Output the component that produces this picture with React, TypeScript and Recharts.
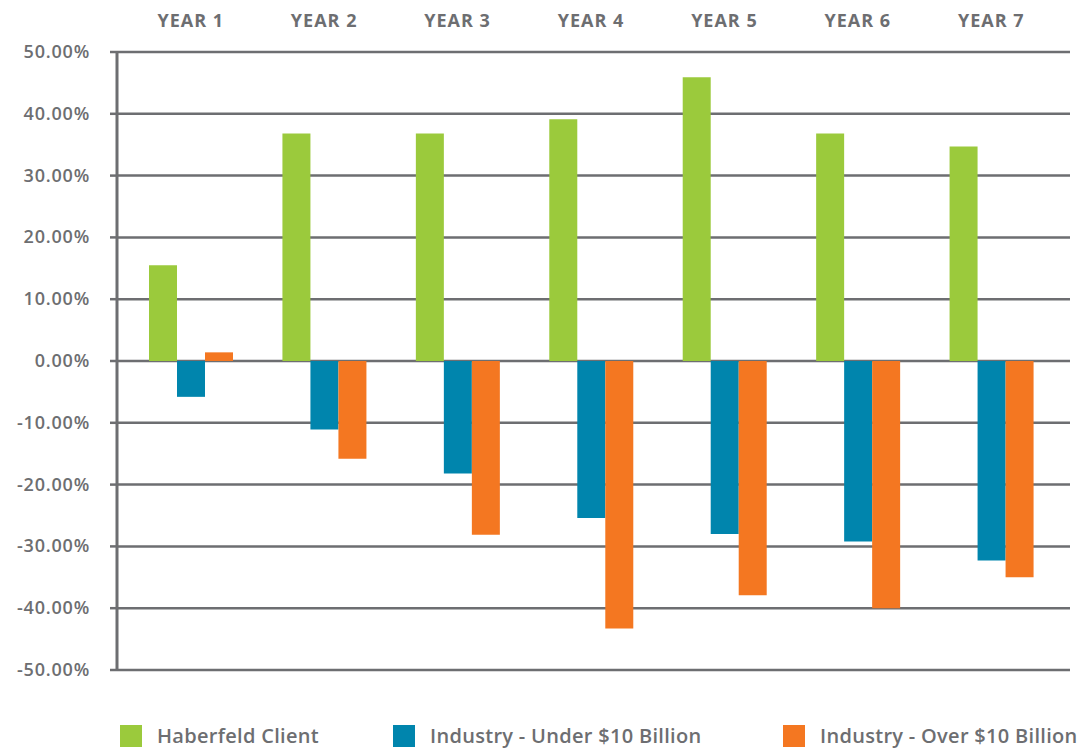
import React from "react";
import { BarChart, Bar, XAxis, YAxis, CartesianGrid, Legend } from "recharts";

const years = ["YEAR 1", "YEAR 2", "YEAR 3", "YEAR 4", "YEAR 5", "YEAR 6", "YEAR 7"];
const haberfeld = [15.5, 36.8, 36.8, 39.1, 45.9, 36.8, 34.7];
const under10 = [-5.8, -11.1, -18.2, -25.4, -28.0, -29.2, -32.3];
const over10 = [1.4, -15.8, -28.1, -43.3, -37.9, -40.0, -35.0];
const yTicks = [50, 40, 30, 20, 10, 0, -10, -20, -30, -40, -50];

const seriesNames = ["Haberfeld Client", "Industry - Under $10 Billion", "Industry - Over $10 Billion"];
const colors = ["#9bca3c", "#0085ad", "#f47721"];

const data = years.map((y, i) => ({
  year: y,
  h: haberfeld[i],
  u: under10[i],
  o: over10[i],
}));

const GRAY = "#6d6e71";
const FONT = "'Open Sans', sans-serif";

const YTick = (props: any) => {
  const { x, y, payload } = props;
  return (
    <text
      x={x - 18}
      y={y}
      dy={6}
      textAnchor="end"
      fill={GRAY}
      fontFamily={FONT}
      fontWeight={600}
      fontSize={18}
      letterSpacing={0.8}
    >
      {payload.value.toFixed(2) + "%"}
    </text>
  );
};

const XTick = (props: any) => {
  const { x, payload } = props;
  return (
    <text
      x={x}
      y={27}
      textAnchor="middle"
      fill={GRAY}
      fontFamily={FONT}
      fontWeight={700}
      fontSize={18}
      letterSpacing={1}
    >
      {payload.value}
    </text>
  );
};

const widths = [273, 390, 300];

const LegendContent = () => (
  <div style={{ display: "flex", alignItems: "center", height: 26 }}>
    {seriesNames.map((n, i) => (
      <div key={n} style={{ width: widths[i], display: "flex", alignItems: "center" }}>
        <div style={{ width: 22, height: 22, background: colors[i], marginRight: 15, flexShrink: 0 }} />
        <span
          style={{
            fontFamily: FONT,
            fontSize: 20,
            fontWeight: 600,
            color: GRAY,
            whiteSpace: "nowrap",
            letterSpacing: 0.3,
            lineHeight: "26px",
          }}
        >
          {n}
        </span>
      </div>
    ))}
  </div>
);

export default function App() {
  return (
    <div style={{ position: "absolute", left: 0, top: 0, width: 1090, height: 748, background: "#fff" }}>
      <BarChart
        width={1090}
        height={748}
        data={data}
        margin={{ top: 12, right: 20, bottom: 52, left: 0 }}
        barGap={0}
        barSize={28}
      >
        <CartesianGrid horizontal vertical={false} stroke={GRAY} strokeWidth={2.5} />
        <XAxis
          dataKey="year"
          orientation="top"
          height={40}
          axisLine={false}
          tickLine={false}
          tick={<XTick />}
          padding={{ left: 7, right: 12 }}
        />
        <YAxis
          width={117}
          domain={[-50, 50]}
          ticks={yTicks}
          interval={0}
          axisLine={{ stroke: GRAY, strokeWidth: 3 }}
          tickLine={{ stroke: GRAY, strokeWidth: 2.5 }}
          tickSize={7}
          tick={<YTick />}
        />
        <Legend
          content={<LegendContent />}
          wrapperStyle={{ position: "absolute", left: 120, top: 723, width: 970, height: 26 }}
        />
        <Bar dataKey="h" name={seriesNames[0]} fill={colors[0]} isAnimationActive={false} />
        <Bar dataKey="u" name={seriesNames[1]} fill={colors[1]} isAnimationActive={false} />
        <Bar dataKey="o" name={seriesNames[2]} fill={colors[2]} isAnimationActive={false} />
      </BarChart>
    </div>
  );
}
